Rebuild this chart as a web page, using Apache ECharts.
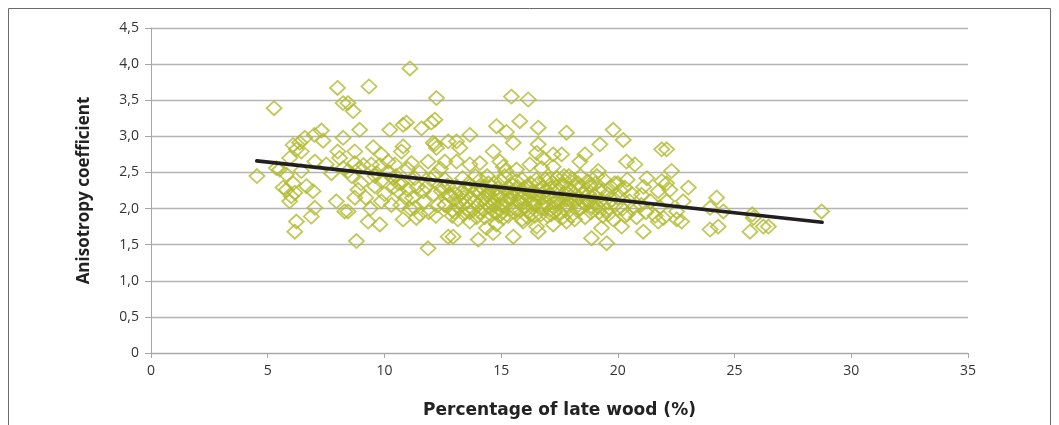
<!DOCTYPE html>
<html>
<head>
<meta charset="utf-8">
<script src="https://cdn.jsdelivr.net/npm/echarts@6/dist/echarts.min.js"></script>
<style>
html,body{margin:0;padding:0;background:#fff;}
#chart{width:1059px;height:425px;}
</style>
</head>
<body>
<div id="chart"></div>
<script>
// Tick labels
const yTickLabels = ['0','0,5','1,0','1,5','2,0','2,5','3,0','3,5','4,0','4,5'];
const xTickLabels = ['0','5','10','15','20','25','30','35'];

// Percentage of late wood (%) , Anisotropy coefficient
const samples = [
[5.27,3.39],[4.54,2.45],[7.99,3.67],[8.23,3.46],[7.3,3.08],[7.0,3.02],[7.37,2.94],[6.59,2.98],
[6.37,2.91],[6.09,2.88],[6.44,2.79],[6.23,2.82],[8.23,2.98],[8.0,2.79],[8.08,2.70],[5.37,2.56],
[5.51,2.54],[5.94,2.70],[7.02,2.65],[7.51,2.61],[7.73,2.49],[8.23,2.56],[6.44,2.52],[5.8,2.47],
[6.09,2.35],[6.66,2.31],[6.94,2.24],[5.8,2.26],[6.01,2.17],[5.94,2.10],[7.94,2.10],[8.3,1.96],
[7.02,2.01],[6.87,1.89],[6.23,1.82],[6.16,1.68],[5.66,2.29],[6.16,2.22],
[11.09,3.94],[9.34,3.69],[12.23,3.53],[8.66,3.35],[8.44,3.46],[8.94,3.09],[10.23,3.09],[10.8,3.16],
[10.94,3.19],[11.59,3.11],[12.16,3.23],[12.01,3.19],[8.73,2.79],[9.52,2.85],[9.87,2.75],[10.8,2.86],
[10.73,2.79],[12.16,2.89],[12.23,2.84],[12.73,2.93],[8.73,2.63],[9.44,2.61],[10.16,2.65],[10.45,2.61],
[11.16,2.63],[11.87,2.65],[12.59,2.65],[8.44,2.52],[9.66,2.49],[9.87,2.38],[10.37,2.42],[10.73,2.35],
[11.3,2.42],[12.16,2.47],[8.87,2.26],[9.59,2.31],[10.59,2.24],[11.02,2.26],[11.66,2.24],[12.44,2.24],
[12.73,2.19],[8.73,2.15],[9.87,2.10],[11.3,2.01],[11.37,1.87],[11.52,1.92],[9.3,1.82],[9.8,1.78],
[12.59,2.05],[8.44,1.96],[8.8,1.55],[11.87,1.45],[12.73,1.61],[12.09,2.91],
[15.44,3.55],[16.16,3.51],[15.8,3.21],[14.8,3.14],[15.23,3.06],[16.59,3.12],[13.66,3.02],[15.52,2.91],
[13.09,2.93],[13.23,2.84],[14.66,2.79],[16.59,2.89],[16.52,2.77],[16.8,2.70],[17.23,2.75],[13.09,2.65],
[13.66,2.61],[14.09,2.63],[14.95,2.65],[15.09,2.58],[15.66,2.54],[16.23,2.61],[16.73,2.56],[17.23,2.58],
[14.02,1.57],[15.52,1.61],[12.94,1.61],[14.66,1.66],[16.59,1.68],[16.52,1.75],[14.8,1.78],[14.37,1.73],
[17.23,1.78],[13.66,1.82],[15.09,1.87],[15.94,1.82],
[17.8,3.05],[19.8,3.09],[20.23,2.95],[19.23,2.89],[17.59,2.75],[18.59,2.75],[18.37,2.65],[19.16,2.52],
[20.37,2.65],[20.73,2.61],[21.24,2.42],[21.88,2.82],[21.88,2.38],[17.73,2.38],[18.8,2.33],[19.87,2.35],
[20.3,2.29],[21.02,2.19],[21.73,2.24],[18.87,1.59],[19.52,1.52],[21.09,1.68],[20.16,1.75],[19.3,1.73],
[21.73,1.82],[17.8,1.82],
[22.09,2.82],[22.3,2.52],[22.09,2.35],[23.02,2.29],[22.23,2.26],[22.09,2.10],[22.8,2.10],[22.52,1.96],
[22.73,1.82],[22.52,1.85],[24.23,2.15],[23.95,2.01],[24.52,1.96],[24.3,1.75],[23.95,1.71],[25.8,1.87],
[25.66,1.68],[26.23,1.75],[21.95,1.87],[28.73,1.96],[26.45,1.75],[25.76,1.92],
[12.6,2.05],[12.8,2.18],[12.9,1.98],[13.0,2.12],[13.1,2.3],[13.2,2.02],[13.3,2.22],[13.4,1.92],
[13.5,2.08],[13.6,2.35],[13.7,2.15],[13.8,1.98],[13.9,2.25],[14.0,2.05],[14.1,2.4],[14.2,2.12],
[14.3,1.88],[14.4,2.2],[14.5,2.02],[14.6,2.3],[14.7,2.1],[14.8,1.95],[14.9,2.18],[15.0,2.38],
[15.1,2.06],[15.2,2.25],[15.3,1.9],[15.4,2.14],[15.5,2.32],[15.6,2.0],[15.7,2.2],[15.8,2.08],
[15.9,1.85],[16.0,2.28],[16.1,2.12],[16.2,1.96],[16.3,2.22],[16.4,2.05],[16.5,2.4],[16.6,2.15],
[16.7,1.92],[16.8,2.3],[16.9,2.08],[17.0,2.18],[17.1,1.98],[17.2,2.36],[17.3,2.1],[17.4,2.24],
[17.5,1.95],[17.6,2.15],[17.7,2.45],[17.8,2.05],[17.9,2.28],[18.0,1.9],[18.1,2.2],[18.2,2.1],
[18.3,2.35],[18.4,2.0],[18.5,2.22],[18.6,1.88],[18.7,2.12],[18.8,2.3],[18.9,2.02],[19.0,2.18],
[19.2,1.95],[19.4,2.25],[19.6,2.08],[19.8,1.85],[20.0,2.15],[20.2,2.0],[20.4,1.92],[20.6,2.2],
[20.8,1.88],[21.0,2.05],[21.2,1.95],[21.4,2.1],[21.6,1.9],[21.8,2.02],
[12.7,2.32],[12.9,1.9],[13.05,2.2],[13.25,2.1],[13.45,2.28],[13.65,1.95],[13.85,2.1],[14.05,2.22],
[14.25,1.98],[14.45,2.35],[14.65,2.05],[14.85,2.28],[15.05,1.95],[15.25,2.1],[15.45,2.0],[15.65,2.38],
[15.85,2.15],[16.05,2.02],[16.25,2.35],[16.45,1.9],[16.65,2.25],[16.85,2.0],[17.05,2.4],[17.25,2.02],
[17.45,2.12],[17.65,1.88],[17.85,2.2],[18.05,2.4],[18.25,1.98],[18.45,2.3],[18.65,2.05],[18.85,1.95],
[19.05,2.35],[19.3,2.12],[19.5,1.98],[19.7,2.3],[19.9,2.05],[20.1,2.25],[20.3,1.9],[20.5,2.1],
[13.15,1.85],[13.55,2.0],[13.95,1.88],[14.15,2.3],[14.35,2.08],[14.55,1.92],[14.75,2.2],[14.95,2.05],
[15.15,2.45],[15.35,2.15],[15.55,1.95],[15.75,2.1],[15.95,2.22],[16.15,1.88],[16.35,2.08],[16.55,2.2],
[16.75,2.05],[16.95,2.25],[17.15,1.92],[17.35,2.3],[17.55,2.08],[17.75,1.98],[17.95,2.12],[18.15,1.85],
[18.35,2.15],[18.55,2.08],[18.75,2.2],[18.95,2.1],[19.15,2.02],[19.35,1.9],[19.55,2.2],[19.75,2.12],
[10.0,2.2],[10.3,2.05],[10.6,2.35],[10.9,2.15],[11.1,2.0],[11.4,2.3],[11.7,2.1],[11.9,1.95],
[12.1,2.2],[12.3,2.05],[12.5,2.3],[10.2,2.5],[10.5,2.45],[11.0,2.55],[11.5,2.5],[12.0,2.4],
[9.0,2.35],[9.4,2.0],[10.8,1.85],[12.2,1.9],[12.4,2.55],[8.6,2.45],[8.9,2.55],[9.1,2.6],
[9.6,2.45],[9.8,2.6],
[13.35,2.42],[13.75,2.3],[14.1,1.95],[14.4,2.45],[14.7,2.35],[15.0,2.15],[15.2,2.52],[15.3,2.3],
[15.6,2.25],[15.9,2.4],[16.1,2.3],[16.3,1.92],[16.6,2.35],[16.9,2.4],[17.1,2.28],[17.4,2.42],
[17.6,2.32],[17.9,2.45],[18.2,2.3],[18.4,2.45],[18.7,2.38],[19.1,2.45],[19.4,2.4],[13.9,2.45],
[14.3,2.15],[14.6,2.12],[15.4,2.22],[15.8,1.98],[16.4,2.12],[16.8,2.15],[17.3,1.95],[17.8,2.12],
[18.3,2.05],[18.8,2.1],[19.2,2.25],[19.6,1.92],[20.0,2.35],[20.4,2.4],[20.7,2.02],[21.1,2.3],
[13.0,1.95],[13.4,2.15],[14.2,2.28],[14.9,1.9],[15.7,2.3],[16.2,2.18],[17.0,1.9],[17.7,2.2],
[11.2,2.15],[11.8,2.3],[10.4,2.3],[9.2,2.15],[12.6,2.4],[10.7,2.05]
];

// Linear trend line end points
const trendX = [4.53, 28.75];
const trendY = [2.66, 1.81];

const chart = echarts.init(document.getElementById('chart'), null, {renderer:'canvas'});
const labelFont = {fontFamily:'Open Sans', fontSize:14, color:'#333'};
chart.setOption({
  animation:false,
  backgroundColor:'#fff',
  graphic:[{type:'rect', shape:{x:8.5,y:8.5,width:1042,height:440}, style:{fill:'none', stroke:'#6b6b6b', lineWidth:1}, silent:true, z:-1}],
  grid:{left:151, right:91, top:28, bottom:72, containLabel:false},
  xAxis:{
    type:'value', min:0, max:35, interval:5,
    name:'Percentage of late wood (%)', nameLocation:'middle', nameGap:49,
    nameTextStyle:{fontFamily:'DejaVu Sans', fontSize:17, fontWeight:'bold', color:'#222'},
    axisLine:{show:true, lineStyle:{color:'#a6a6a6', width:1}},
    axisTick:{show:true, length:5, lineStyle:{color:'#a6a6a6'}},
    axisLabel:Object.assign({margin:11, formatter:(v)=>xTickLabels[Math.round(v/5)]}, labelFont),
    splitLine:{show:false}
  },
  yAxis:{
    type:'value', min:0, max:4.5, interval:0.5,
    name:'Anisotropy coefficient', nameLocation:'middle', nameGap:58, nameRotate:90,
    nameTextStyle:{fontFamily:'Open Sans', fontSize:17, fontWeight:'bold', color:'#222'},
    axisLine:{show:true, lineStyle:{color:'#a6a6a6', width:1}},
    axisTick:{show:true, length:6, lineStyle:{color:'#a6a6a6'}},
    axisLabel:Object.assign({margin:12, formatter:(v)=>yTickLabels[Math.round(v*2)]}, labelFont),
    splitLine:{show:true, lineStyle:{color:'#b4b4b4', width:1.3}}
  },
  series:[
    {
      type:'scatter', data:samples, symbol:'diamond', symbolSize:[15,14],
      itemStyle:{color:'rgba(0,0,0,0)', borderColor:'#b2ba2e', borderWidth:1.8},
      z:2
    },
    {
      type:'line', data:trendX.map((x,i)=>[x,trendY[i]]), showSymbol:false, symbol:'none',
      lineStyle:{color:'#231f20', width:3.6, cap:'round'}, z:3
    }
  ]
});
</script>
</body>
</html>
